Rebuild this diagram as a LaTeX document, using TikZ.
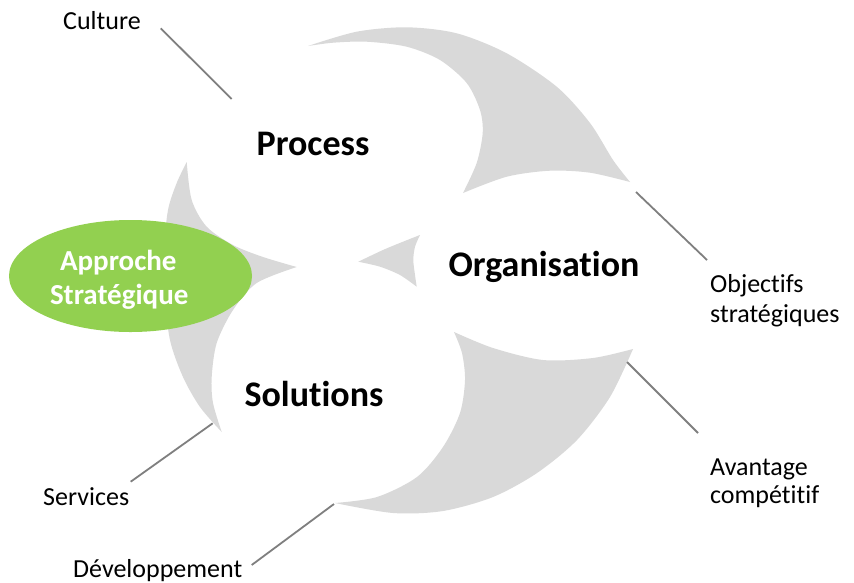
\documentclass[tikz,border=0pt]{standalone}
\usepackage{fontspec}
\setmainfont{Carlito}[Ligatures={NoCommon,NoContextual}]
\usetikzlibrary{shapes.geometric}
\definecolor{arrowgray}{HTML}{D9D9D9}
\definecolor{linegray}{HTML}{7F7F7F}
\definecolor{apgreen}{HTML}{92D050}
\tikzset{
  arrowshape/.style={fill=arrowgray, draw=none},
  leader/.style={draw=linegray, line width=1.8pt},
  lbl/.style={inner sep=0pt, anchor=base west, font=\fontsize{26}{29}\selectfont, text=black},
  biglbl/.style={inner sep=0pt, anchor=base, font=\fontsize{36}{40}\selectfont\bfseries, text=black},
  greenlbl/.style={inner sep=0pt, anchor=base, font=\fontsize{29}{34}\selectfont\bfseries, text=white},
  greenell/.style={ellipse, fill=apgreen, draw=none, minimum width=243pt, minimum height=112pt, inner sep=0pt}
}
\begin{document}
\begin{tikzpicture}[x=1pt,y=-1pt]
\useasboundingbox (0,0) rectangle (854,582);
\fill[white] (0,0) rectangle (854,582);

% top arrow (around Process)
\path[arrowshape] (308,46)
  -- plot[smooth] coordinates {(308,46) (356.7,31.7) (406.7,27.3) (456.7,33.3) (506.7,53.3) (556.7,86.7) (590,123) (613,160) (630,182)}
  -- plot[smooth] coordinates {(630,182) (590,172.7) (550,170.7) (506.7,176.7) (463,193)}
  -- plot[smooth] coordinates {(463,193) (476.7,163) (482.7,133) (480,110) (466.7,83) (440,60) (406.7,46.7) (366.7,41.7) (333,42.7) (308,46)}
  -- cycle;

% left arrow
\path[arrowshape] (186.7,162)
  -- plot[smooth] coordinates {(186.7,162) (176.7,183) (168,210) (164,250) (164,290) (170,340) (183,377) (200,407) (221.7,432)}
  -- plot[smooth] coordinates {(221.7,432) (213,403) (211.7,377) (216.7,343) (233,310) (256.7,283) (296.7,267)}
  -- plot[smooth] coordinates {(296.7,267) (263,257) (233,245) (206.7,226.7) (191.7,200) (186.7,162)}
  -- cycle;

% middle arrowhead
\path[arrowshape] (358.3,261.7)
  -- plot[smooth] coordinates {(358.3,261.7) (383,250) (403,241.7) (420,235)}
  -- plot[smooth] coordinates {(420,235) (415,246.7) (413.3,260) (415,275) (416.7,286.7)}
  -- plot[smooth] coordinates {(416.7,286.7) (400,275) (380,266.7) (358.3,261.7)}
  -- cycle;

% bottom arrow (around Solutions)
\path[arrowshape] (454,332)
  -- plot[smooth] coordinates {(454,332) (493,348) (543,360) (593,358) (633,349)}
  -- plot[smooth] coordinates {(633,349) (610,397) (577,440) (537,473) (493,497) (443,511) (393,513) (335,503)}
  -- plot[smooth] coordinates {(335,503) (377,497) (417,477) (443,447) (460,413) (465,380) (462,353) (454,332)}
  -- cycle;

% green ellipse
\node[greenell] (appr) at (130.5,276) {};
\node[greenlbl] (appr1) at (118.3,270) {Approche};
\node[greenlbl] (appr2) at (119.2,304) {Stratégique};

% main labels
\node[biglbl] (process) at (313,155) {Process};
\node[biglbl] (organisation) at (544,276) {Organisation};
\node[biglbl] (solutions) at (314,406) {Solutions};

% side labels
\node[lbl] (culture) at (63,29) {Culture};
\node[lbl] (objectifs1) at (710,292.5) {Objectifs};
\node[lbl] (objectifs2) at (710,322.5) {stratégiques};
\node[lbl] (avantage1) at (710,475) {Avantage};
\node[lbl] (avantage2) at (710,503.5) {compétitif};
\node[lbl] (services) at (43,505) {Services};
\node[lbl] (developpement) at (73,577) {Développement};

% leader line ends
\coordinate (cultA) at (160.7,28.3);
\coordinate (cultB) at (231.7,99);
\coordinate (objA) at (636,192);
\coordinate (objB) at (707,260);
\coordinate (avA) at (627,362);
\coordinate (avB) at (698,433);
\coordinate (servA) at (212.7,423.3);
\coordinate (servB) at (130.7,481.7);
\coordinate (devA) at (334,504);
\coordinate (devB) at (251.7,565);

\draw[leader] (cultA) -- (cultB);
\draw[leader] (objA) -- (objB);
\draw[leader] (avA) -- (avB);
\draw[leader] (servA) -- (servB);
\draw[leader] (devA) -- (devB);
\end{tikzpicture}
\end{document}
